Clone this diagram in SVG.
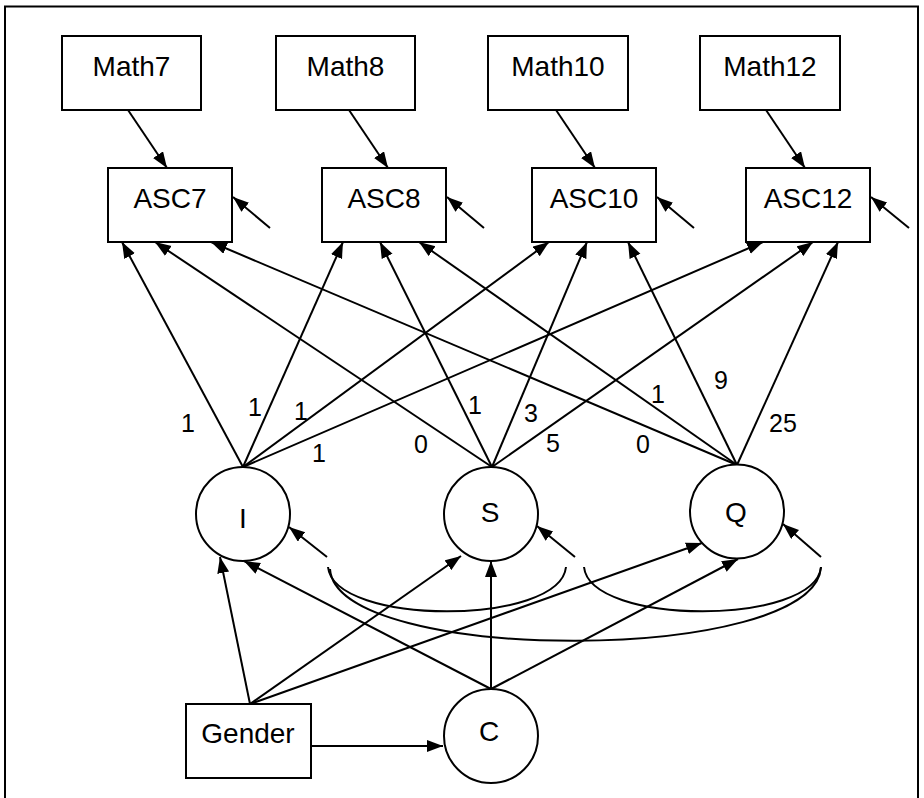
<svg xmlns="http://www.w3.org/2000/svg" width="924" height="798" viewBox="0 0 924 798">
<style>
.box{fill:#fff;stroke:#000;stroke-width:2}
.nt{font-family:"Liberation Sans",Arial,sans-serif;font-size:28px;fill:#000;text-anchor:middle}
.lb{font-family:"Liberation Sans",Arial,sans-serif;font-size:25px;fill:#000;text-anchor:middle}
.ln{fill:none;stroke:#000;stroke-width:2;marker-end:url(#ah)}
.arc{fill:none;stroke:#000;stroke-width:2}
</style>
<defs>
<marker id="ah" markerUnits="userSpaceOnUse" markerWidth="17" markerHeight="13" refX="16" refY="6" orient="auto">
<path d="M0,0 L16,6 L0,12 z" fill="#000"/>
</marker>
</defs>
<rect x="5" y="6.5" width="913" height="800" fill="#fff" stroke="#000" stroke-width="2"/>
<g id="connectors">
<line class="ln" x1="128" y1="110" x2="167" y2="168"/>
<line class="ln" x1="349" y1="110" x2="388" y2="168"/>
<line class="ln" x1="556" y1="110" x2="595" y2="168"/>
<line class="ln" x1="766" y1="110" x2="805" y2="168"/>
<line class="ln" x1="270" y1="228" x2="233" y2="197"/>
<line class="ln" x1="484" y1="228" x2="447" y2="197"/>
<line class="ln" x1="694" y1="228" x2="657" y2="197"/>
<line class="ln" x1="909" y1="228" x2="871" y2="197"/>
<line class="ln" x1="243" y1="467" x2="122" y2="242"/>
<line class="ln" x1="243" y1="467" x2="343" y2="242"/>
<line class="ln" x1="243" y1="467" x2="549" y2="242"/>
<line class="ln" x1="243" y1="467" x2="763" y2="242"/>
<line class="ln" x1="492" y1="467" x2="155" y2="242"/>
<line class="ln" x1="492" y1="467" x2="380" y2="242"/>
<line class="ln" x1="492" y1="467" x2="587" y2="242"/>
<line class="ln" x1="492" y1="467" x2="813" y2="242"/>
<line class="ln" x1="737" y1="465" x2="211" y2="242"/>
<line class="ln" x1="737" y1="465" x2="419" y2="242"/>
<line class="ln" x1="737" y1="465" x2="628" y2="242"/>
<line class="ln" x1="737" y1="465" x2="838" y2="242"/>
<line class="ln" x1="327" y1="557" x2="289" y2="527"/>
<line class="ln" x1="575" y1="557" x2="537" y2="526"/>
<line class="ln" x1="821" y1="557" x2="783" y2="524"/>
<path class="arc" d="M328,567 C334,626 560,626 566,567"/>
<path class="arc" d="M330,569 C336,665 815,665 821,567"/>
<path class="arc" d="M584,567 C590,626 815,626 821,567"/>
<line class="ln" x1="250" y1="704" x2="220" y2="557"/>
<line class="ln" x1="250" y1="704" x2="461" y2="556"/>
<line class="ln" x1="250" y1="704" x2="702" y2="543"/>
<line class="ln" x1="491" y1="689" x2="244" y2="561"/>
<line class="ln" x1="491" y1="689" x2="491" y2="561"/>
<line class="ln" x1="491" y1="689" x2="738" y2="559"/>
<line class="ln" x1="311" y1="746" x2="443" y2="746"/>
</g>
<g id="labels">
<text class="lb" x="188" y="432">1</text>
<text class="lb" x="255" y="416">1</text>
<text class="lb" x="301" y="420">1</text>
<text class="lb" x="319" y="462">1</text>
<text class="lb" x="421" y="453">0</text>
<text class="lb" x="475" y="414">1</text>
<text class="lb" x="531" y="422">3</text>
<text class="lb" x="553" y="452">5</text>
<text class="lb" x="643" y="453">0</text>
<text class="lb" x="658" y="403">1</text>
<text class="lb" x="721" y="389">9</text>
<text class="lb" x="783" y="432">25</text>
</g>
<g id="Math7"><rect class="box" x="62" y="36" width="139" height="74"/><text class="nt" x="131.5" y="76">Math7</text></g>
<g id="Math8"><rect class="box" x="276" y="36" width="139" height="74"/><text class="nt" x="345.5" y="76">Math8</text></g>
<g id="Math10"><rect class="box" x="488" y="36" width="140" height="74"/><text class="nt" x="558" y="76">Math10</text></g>
<g id="Math12"><rect class="box" x="700" y="36" width="140" height="74"/><text class="nt" x="770" y="76">Math12</text></g>
<g id="ASC7"><rect class="box" x="108" y="168" width="124" height="74"/><text class="nt" x="170" y="208">ASC7</text></g>
<g id="ASC8"><rect class="box" x="322" y="168" width="124" height="74"/><text class="nt" x="384" y="208">ASC8</text></g>
<g id="ASC10"><rect class="box" x="532" y="168" width="124" height="74"/><text class="nt" x="594" y="208">ASC10</text></g>
<g id="ASC12"><rect class="box" x="746" y="168" width="124" height="74"/><text class="nt" x="808" y="208">ASC12</text></g>
<g id="I"><circle class="box" cx="243" cy="514" r="47"/><text class="nt" x="243" y="528">I</text></g>
<g id="S"><circle class="box" cx="491" cy="514" r="47"/><text class="nt" x="490" y="522">S</text></g>
<g id="Q"><circle class="box" cx="737" cy="511.5" r="47"/><text class="nt" x="736" y="522">Q</text></g>
<g id="C"><circle class="box" cx="491" cy="736" r="47"/><text class="nt" x="489" y="741">C</text></g>
<g id="Gender"><rect class="box" x="186" y="704" width="125" height="74"/><text class="nt" x="248" y="743">Gender</text></g>
</svg>
